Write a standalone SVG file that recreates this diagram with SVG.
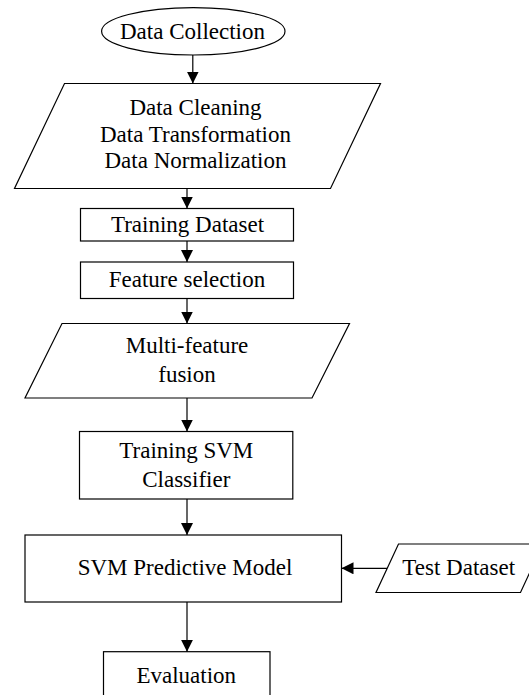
<svg xmlns="http://www.w3.org/2000/svg" width="529" height="695" viewBox="0 0 529 695">
<style>
.shape{fill:#fff;stroke:#000;stroke-width:1.2}
.lbl{font-family:"Liberation Serif","Times New Roman",serif;font-size:23px;fill:#000;text-anchor:middle}
.conn{stroke:#000;stroke-width:1.2;fill:none;marker-end:url(#ah)}
</style>
<defs>
<marker id="ah" markerUnits="userSpaceOnUse" markerWidth="12" markerHeight="12" viewBox="0 0 12 12" refX="12" refY="6" orient="auto">
<path d="M0,0 L12,6 L0,12 Z" fill="#000"/>
</marker>
</defs>
<rect width="529" height="695" fill="#fff"/>
<g id="n-collection">
<ellipse class="shape" cx="193.3" cy="31.3" rx="91.7" ry="23.7"/>
<text class="lbl" x="192.5" y="38.5">Data Collection</text>
</g>
<g id="n-cleaning">
<polygon class="shape" points="64.5,83.5 380.5,83.5 330.5,188.5 14.5,188.5"/>
<text class="lbl" x="195.5" y="115">Data Cleaning</text>
<text class="lbl" x="195.5" y="141.7">Data Transformation</text>
<text class="lbl" x="195.5" y="168.3">Data Normalization</text>
</g>
<g id="n-training-dataset">
<rect class="shape" x="80.5" y="208.5" width="213" height="32.5"/>
<text class="lbl" x="187.5" y="231.7">Training Dataset</text>
</g>
<g id="n-feature-selection">
<rect class="shape" x="80.5" y="262" width="213" height="36.5"/>
<text class="lbl" x="187" y="287.3">Feature selection</text>
</g>
<g id="n-fusion">
<polygon class="shape" points="62,323.5 349.5,323.5 312,398 25,398"/>
<text class="lbl" x="187" y="353.3">Multi-feature</text>
<text class="lbl" x="187" y="381.7">fusion</text>
</g>
<g id="n-training-svm">
<rect class="shape" x="79.5" y="431.5" width="213.3" height="67.5"/>
<text class="lbl" x="186.3" y="458.3">Training SVM</text>
<text class="lbl" x="186.3" y="486.7">Classifier</text>
</g>
<g id="n-svm-model">
<rect class="shape" x="25" y="535" width="316.5" height="67"/>
<text class="lbl" x="185" y="575">SVM Predictive Model</text>
</g>
<g id="n-test-dataset">
<polygon class="shape" points="398.5,544 543,544 520.5,592.5 376,592.5"/>
<text class="lbl" x="458.7" y="575">Test Dataset</text>
</g>
<g id="n-evaluation">
<rect class="shape" x="103.5" y="651.7" width="166.5" height="60"/>
<text class="lbl" x="186.3" y="682.7">Evaluation</text>
</g>
<g id="connectors">
<line class="conn" x1="192.8" y1="55" x2="192.8" y2="83.5"/>
<line class="conn" x1="187" y1="188.5" x2="187" y2="208.5"/>
<line class="conn" x1="187" y1="241" x2="187" y2="262"/>
<line class="conn" x1="187" y1="298.5" x2="187" y2="323.5"/>
<line class="conn" x1="187" y1="398" x2="187" y2="431.5"/>
<line class="conn" x1="187" y1="499" x2="187" y2="535"/>
<line class="conn" x1="387" y1="568.3" x2="341.5" y2="568.3"/>
<line class="conn" x1="187" y1="602" x2="187" y2="651.7"/>
</g>
</svg>
